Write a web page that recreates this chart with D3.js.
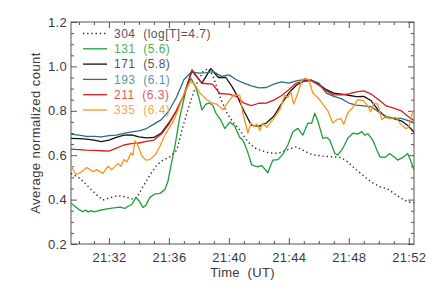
<!DOCTYPE html>
<html><head><meta charset="utf-8">
<script src="https://cdn.jsdelivr.net/npm/d3@7"></script>
<style>
html,body{margin:0;padding:0;background:#fff;}
text{font-family:"Liberation Sans",Arial,sans-serif;white-space:pre;}
</style></head>
<body><svg id="c" width="436" height="290"></svg>
<script>
// time in minutes after 21:00 UT
const t304 = [29.47,30.07,30.73,31.2,31.6,32.07,32.6,33.13,33.6,33.87,34.27,34.73,35.2,35.6,36.07,36.53,36.93,37.4,37.87,38.27,38.6,38.93,39.4,39.87,40.27,40.73,41.27,41.73,42.2,42.73,43.27,43.73,44.2,44.53,45.0,45.53,46.27,46.93,47.47,47.93,48.4,48.93,49.47,50.07,50.6,51.07,51.53,51.93,52.35];
const v304 = [0.518,0.496,0.451,0.42,0.398,0.408,0.418,0.412,0.402,0.41,0.458,0.51,0.556,0.578,0.593,0.623,0.728,0.834,0.924,0.976,0.991,0.96,0.864,0.79,0.75,0.714,0.66,0.633,0.62,0.61,0.608,0.62,0.632,0.638,0.62,0.603,0.596,0.593,0.59,0.57,0.54,0.511,0.48,0.458,0.448,0.425,0.405,0.39,0.386];

const t131 = [29.47,29.73,30.0,30.27,30.47,30.6,30.8,31.0,31.4,31.8,32.2,32.73,33.07,33.27,33.53,33.8,34.0,34.27,34.47,34.73,35.07,35.4,35.73,35.93,36.13,36.4,36.73,37.13,37.47,37.8,38.0,38.2,38.47,38.67,38.93,39.13,39.4,39.73,40.07,40.4,40.73,40.93,41.2,41.53,41.87,42.2,42.6,42.93,43.27,43.6,43.93,44.27,44.6,44.93,45.27,45.53,45.73,45.93,46.27,46.53,46.73,47.07,47.27,47.6,47.93,48.27,48.6,48.87,49.07,49.27,49.6,49.87,50.07,50.4,50.73,51.07,51.27,51.6,51.93,52.13,52.35];
const v131 = [0.385,0.37,0.355,0.346,0.353,0.344,0.35,0.345,0.352,0.357,0.362,0.366,0.36,0.37,0.378,0.41,0.395,0.365,0.375,0.41,0.425,0.428,0.445,0.48,0.55,0.64,0.773,0.89,0.946,0.905,0.86,0.804,0.83,0.835,0.825,0.79,0.765,0.72,0.75,0.73,0.68,0.668,0.625,0.556,0.548,0.553,0.521,0.578,0.58,0.605,0.645,0.706,0.721,0.69,0.744,0.745,0.789,0.755,0.676,0.68,0.668,0.608,0.601,0.63,0.676,0.699,0.695,0.706,0.69,0.697,0.668,0.623,0.593,0.59,0.608,0.59,0.578,0.59,0.608,0.575,0.533];

const t171 = [29.47,30,30.5,31,31.5,32,32.5,33,33.5,34,34.5,35,35.5,36,36.5,37,37.54,38.2,38.8,39.3,39.8,40.2,40.5,41,41.5,42,42.5,43,43.5,44,44.5,45,45.5,46,46.5,47,47.5,48,48.5,49,49.5,50,50.5,51,51.5,52,52.35];
const v171 = [0.676,0.675,0.672,0.668,0.661,0.668,0.68,0.69,0.692,0.683,0.678,0.68,0.7,0.745,0.80,0.87,0.98,0.925,0.99,0.95,0.95,0.91,0.875,0.80,0.735,0.73,0.745,0.775,0.83,0.88,0.915,0.935,0.938,0.92,0.895,0.88,0.875,0.87,0.864,0.865,0.845,0.80,0.77,0.765,0.755,0.73,0.703];

const t193 = [29.47,30,30.5,31,31.5,32,32.5,33,33.5,34,34.5,35,35.5,36,36.5,37,37.5,38,38.5,39,39.5,40,40.5,41,41.5,42,42.5,43,43.5,44,44.5,45,45.5,46,46.5,47,47.5,48,48.5,49,49.5,50,50.5,51,51.5,52,52.35];
const v193 = [0.695,0.69,0.685,0.685,0.683,0.688,0.69,0.698,0.705,0.71,0.72,0.74,0.76,0.80,0.86,0.94,0.975,0.97,0.972,0.976,0.955,0.962,0.94,0.925,0.912,0.903,0.905,0.92,0.93,0.925,0.935,0.94,0.937,0.925,0.88,0.865,0.855,0.835,0.826,0.822,0.818,0.795,0.775,0.767,0.766,0.755,0.746];

const t211 = [29.47,30,30.5,31,31.5,32,32.5,33,33.5,34,34.5,35,35.5,36,36.5,37,37.54,38.2,38.9,39.4,40,40.5,41,41.5,42,42.5,43,43.5,44,44.5,45,45.5,46,46.5,47,47.5,48,48.5,49,49.5,50,50.5,51,51.5,52,52.35];
const v211 = [0.627,0.625,0.623,0.622,0.62,0.618,0.632,0.646,0.652,0.655,0.662,0.668,0.695,0.74,0.80,0.87,0.985,0.924,0.92,0.878,0.875,0.865,0.835,0.823,0.834,0.835,0.848,0.868,0.895,0.925,0.932,0.936,0.915,0.89,0.872,0.872,0.876,0.885,0.89,0.875,0.85,0.822,0.812,0.80,0.772,0.757];

const t335 = [29.47,29.8,30.07,30.53,30.93,31.2,31.4,31.6,31.93,32.2,32.6,32.8,33.0,33.2,33.47,33.6,33.73,33.93,34.2,34.47,34.73,35.13,35.4,35.73,36.27,36.6,36.93,37.4,37.67,38.07,38.53,38.87,39.2,39.6,40.07,40.33,40.73,40.93,41.27,41.47,41.67,41.87,42.07,42.27,42.53,42.93,43.4,43.73,43.93,44.13,44.33,44.6,44.87,45.13,45.33,45.6,45.93,46.27,46.6,46.93,47.2,47.47,47.67,47.93,48.27,48.6,49.0,49.27,49.47,49.67,49.93,50.2,50.47,50.8,51.13,51.47,51.8,52.0,52.27];
const v335 = [0.55,0.513,0.52,0.545,0.526,0.535,0.525,0.518,0.55,0.535,0.563,0.55,0.58,0.57,0.61,0.60,0.665,0.645,0.595,0.578,0.58,0.605,0.64,0.69,0.75,0.80,0.865,0.93,0.925,0.88,0.85,0.835,0.83,0.805,0.85,0.872,0.87,0.79,0.70,0.745,0.73,0.74,0.712,0.745,0.725,0.76,0.805,0.87,0.86,0.885,0.83,0.88,0.94,0.946,0.94,0.88,0.86,0.83,0.80,0.745,0.76,0.765,0.74,0.79,0.815,0.85,0.845,0.82,0.795,0.835,0.83,0.76,0.775,0.765,0.77,0.74,0.72,0.725,0.80];

const legendLabels = ["304  (log[T]=4.7)","131  (5.6)","171  (5.8)","193  (6.1)","211  (6.3)","335  (6.4)"];
const yMajor = [0.2,0.4,0.6,0.8,1.0,1.2];
const xMajor = [32,36,40,44,48,52];
const xLabels = ["21:32","21:36","21:40","21:44","21:48","21:52"];

const series = [
  {t:t304, v:v304, color:"#222", text:"#555", dash:"1.3,2.9", w:1.4},
  {t:t131, v:v131, color:"#1f9e35", text:"#4cb055", dash:null, w:1.3},
  {t:t171, v:v171, color:"#111", text:"#555", dash:null, w:1.3},
  {t:t193, v:v193, color:"#2a6f80", text:"#5a98a8", dash:null, w:1.3},
  {t:t211, v:v211, color:"#d41e1e", text:"#e05a5a", dash:null, w:1.3},
  {t:t335, v:v335, color:"#f7951e", text:"#f5a54e", dash:null, w:1.3}
];

const L=71, R=414, T=22, B=244;
const x = d3.scaleLinear().domain([29.47,52.35]).range([L,R]);
const y = d3.scaleLinear().domain([0.2,1.2]).range([B,T]);
const svg = d3.select("#c");
const axc = "#555";
const txc = "#3a3a3a";

svg.append("defs").append("clipPath").attr("id","clip").append("rect")
  .attr("x",L).attr("y",T).attr("width",R-L).attr("height",B-T);

function styleAxis(g){ g.select(".domain").remove(); g.selectAll("line").attr("stroke",axc).attr("stroke-width",1); }
const yMinor = d3.range(0.25,1.2,0.05).filter(v=>Math.abs(Math.round(v*5)-v*5)>1e-6);
const xMinor = d3.range(30,53).filter(v=>xMajor.indexOf(v)<0);
const labStyle = g=>g.selectAll("text").attr("font-size",13).attr("fill",txc)
  .attr("font-family","Liberation Sans, Arial, sans-serif").attr("letter-spacing","0.3px");

svg.append("g").attr("transform",`translate(${L},0)`)
  .call(d3.axisLeft(y).tickValues(yMajor).tickSize(-6).tickPadding(4).tickFormat(d3.format(".1f")))
  .call(styleAxis).call(labStyle);
svg.append("g").attr("transform",`translate(${L},0)`)
  .call(d3.axisLeft(y).tickValues(yMinor).tickSize(-3).tickFormat(""))
  .call(styleAxis);
svg.append("g").attr("transform",`translate(${R},0)`)
  .call(d3.axisRight(y).tickValues(yMajor).tickSize(-6).tickFormat(""))
  .call(styleAxis);
svg.append("g").attr("transform",`translate(${R},0)`)
  .call(d3.axisRight(y).tickValues(yMinor).tickSize(-3).tickFormat(""))
  .call(styleAxis);
svg.append("g").attr("transform",`translate(0,${B})`)
  .call(d3.axisBottom(x).tickValues(xMajor).tickSize(-6).tickPadding(9).tickFormat((d,i)=>xLabels[i]))
  .call(styleAxis).call(labStyle);
svg.append("g").attr("transform",`translate(0,${B})`)
  .call(d3.axisBottom(x).tickValues(xMinor).tickSize(-3).tickFormat(""))
  .call(styleAxis);
svg.append("g").attr("transform",`translate(0,${T})`)
  .call(d3.axisTop(x).tickValues(xMajor).tickSize(-6).tickFormat(""))
  .call(styleAxis);
svg.append("g").attr("transform",`translate(0,${T})`)
  .call(d3.axisTop(x).tickValues(xMinor).tickSize(-3).tickFormat(""))
  .call(styleAxis);

svg.append("rect").attr("x",L).attr("y",T).attr("width",R-L).attr("height",B-T)
  .attr("fill","none").attr("stroke",axc).attr("stroke-width",1);

const line = d3.line().x(d=>x(d[0])).y(d=>y(d[1]));
const plot = svg.append("g").attr("clip-path","url(#clip)");
series.forEach(s=>{
  const p = plot.append("path").datum(s.t.map((tt,i)=>[tt,s.v[i]]))
    .attr("d",line).attr("fill","none").attr("stroke",s.color).attr("stroke-width",s.w)
    .attr("stroke-linejoin","round");
  if(s.dash) p.attr("stroke-dasharray",s.dash);
});

series.forEach((s,i)=>{
  const yy = 33.5 + i*15.3;
  const l = svg.append("line").attr("x1",83).attr("x2",107).attr("y1",yy).attr("y2",yy)
    .attr("stroke",s.color).attr("stroke-width",s.w);
  if(s.dash) l.attr("stroke-dasharray",s.dash);
  svg.append("text").attr("x",114).attr("y",yy).attr("dy","0.36em")
    .attr("font-size",12).attr("letter-spacing","0.5px").attr("fill",s.text).text(legendLabels[i]);
});

svg.append("text").attr("x",(L+R)/2).attr("y",277).attr("text-anchor","middle")
  .attr("font-size",13).attr("letter-spacing","0.3px").attr("fill",txc).text("Time  (UT)");
svg.append("text").attr("transform",`translate(40,${(T+B)/2}) rotate(-90)`)
  .attr("text-anchor","middle").attr("font-size",13).attr("letter-spacing","0.45px").attr("fill",txc).text("Average normalized count");
</script></body></html>
